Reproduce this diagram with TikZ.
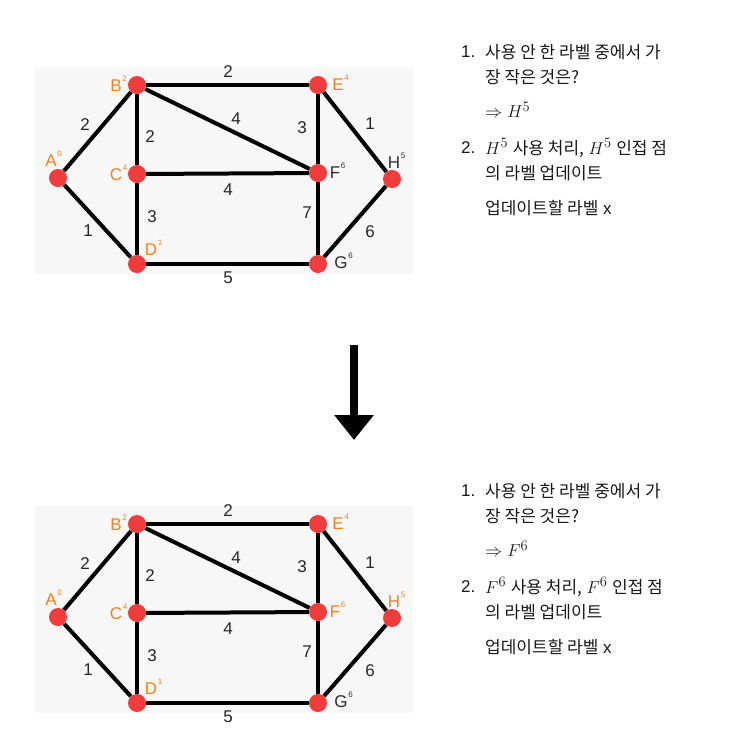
\documentclass[tikz,border=0pt]{standalone}
\usepackage[no-math]{fontspec}
\setmainfont{Liberation Sans}
\newfontfamily\krfont{Noto Sans CJK KR}
\usetikzlibrary{arrows.meta}
\pgfdeclarelayer{bg}
\pgfdeclarelayer{edges}
\pgfsetlayers{bg,edges,main}
\definecolor{nodered}{RGB}{240,60,60}
\definecolor{lblorange}{RGB}{240,130,30}
\definecolor{lblgrey}{RGB}{45,45,45}
\definecolor{panelgrey}{RGB}{247,247,247}
\newcommand\ko[1]{{\krfont\fontsize{17}{17}\selectfont #1}}
\newcommand\mth[1]{{\fontsize{19}{19}\selectfont$#1$}}
\tikzset{
  vtx/.style={circle,fill=nodered,minimum size=18pt,inner sep=0pt},
  edge/.style={line width=4pt,black},
  wlbl/.style={inner sep=0pt,text=black!85,font=\fontsize{17}{17}\selectfont},
  vlbl/.style={inner sep=0pt,font=\fontsize{17}{17}\selectfont},
  slbl/.style={inner sep=0pt,font=\fontsize{8}{8}\selectfont,anchor=north west,xshift=0.3pt,yshift=3pt},
  txt/.style={anchor=west,inner sep=0pt,font=\fontsize{17}{17}\selectfont,text=black!90},
}
\newcommand\drawgraph[4]{%
\begin{scope}[shift={(0,#1)},name prefix=#4-]
  \begin{pgfonlayer}{bg}
    \fill[panelgrey] (35,67) rectangle (413,274);
  \end{pgfonlayer}
  \node[vtx] (A) at (58,178) {};
  \node[vtx] (B) at (137,85) {};
  \node[vtx] (C) at (137,174) {};
  \node[vtx] (D) at (137,264) {};
  \node[vtx] (E) at (318,85) {};
  \node[vtx] (F) at (318,173) {};
  \node[vtx] (G) at (318,264) {};
  \node[vtx] (H) at (392,179) {};
  \begin{pgfonlayer}{edges}
    \draw[edge] (A) -- (B);
    \draw[edge] (A) -- (D);
    \draw[edge] (B) -- (C);
    \draw[edge] (C) -- (D);
    \draw[edge] (B) -- (E);
    \draw[edge] (B) -- (F);
    \draw[edge] (C) -- (F);
    \draw[edge] (D) -- (G);
    \draw[edge] (E) -- (F);
    \draw[edge] (F) -- (G);
    \draw[edge] (E) -- (H);
    \draw[edge] (G) -- (H);
  \end{pgfonlayer}
  % vertex labels
  \node[vlbl,text=lblorange,anchor=base] (la) at (51,166) {A};
  \node[slbl,text=lblorange] (lap) at (la.north east) {0};
  \node[vlbl,text=lblorange,anchor=base] (lb) at (116,91) {B};
  \node[slbl,text=lblorange] (lbp) at (lb.north east) {2};
  \node[vlbl,text=lblorange,anchor=base] (lc) at (116,180) {C};
  \node[slbl,text=lblorange] (lcp) at (lc.north east) {4};
  \node[vlbl,text=lblorange,anchor=base] (ld) at (151,255) {D};
  \node[slbl,text=lblorange] (ldp) at (ld.north east) {1};
  \node[vlbl,text=lblorange,anchor=base] (le) at (338,90) {E};
  \node[slbl,text=lblorange] (lep) at (le.north east) {4};
  \node[vlbl,text=#2,anchor=base] (lf) at (335,178) {F};
  \node[slbl,text=#2] (lfp) at (lf.north east) {6};
  \node[vlbl,text=lblgrey,anchor=base] (lg) at (341,268) {G};
  \node[slbl,text=lblgrey] (lgp) at (lg.north east) {6};
  \node[vlbl,text=#3,anchor=base] (lh) at (394,168) {H};
  \node[slbl,text=#3] (lhp) at (lh.north east) {5};
  % weights
  \node[wlbl] (wab) at (85,125) {2};
  \node[wlbl] (wad) at (88,231) {1};
  \node[wlbl] (wbc) at (150,137) {2};
  \node[wlbl] (wcd) at (152,217) {3};
  \node[wlbl] (wbe) at (228,72) {2};
  \node[wlbl] (wbf) at (236,119) {4};
  \node[wlbl] (wcf) at (228,190) {4};
  \node[wlbl] (wef) at (302,128) {3};
  \node[wlbl] (wfg) at (307,213) {7};
  \node[wlbl] (weh) at (370,124) {1};
  \node[wlbl] (wgh) at (370,232) {6};
  \node[wlbl] (wdg) at (228,278) {5};
\end{scope}}
\newcommand\drawtext[3]{%
\begin{scope}[shift={(0,#1)},name prefix=#3-]
  \node[txt] (n1) at (461,52) {1.};
  \node[txt] (l1) at (485,52) {\ko{사용 안 한 라벨 중에서 가}};
  \node[txt] (l2) at (485,77) {\ko{장 작은 것은?}};
  \node[txt] (l3) at (485,110) {\mth{\Rightarrow #2}};
  \node[txt] (n2) at (461,148) {2.};
  \node[txt] (l4) at (485,148) {\mth{#2} \ko{사용 처리,} \mth{#2} \ko{인접 점}};
  \node[txt] (l5) at (485,173) {\ko{의 라벨 업데이트}};
  \node[txt] (l6) at (485,208) {\ko{업데이트할 라벨} x};
\end{scope}}
\begin{document}
\begin{tikzpicture}[x=1pt,y=-1pt]
  \useasboundingbox (0,0) rectangle (752,748);
  \begin{pgfonlayer}{bg}
    \fill[white] (0,0) rectangle (752,748);
  \end{pgfonlayer}
  \drawgraph{0}{lblgrey}{lblgrey}{top}
  \drawgraph{439}{lblorange}{lblorange}{bot}
  \drawtext{0}{H^5}{ttop}
  \drawtext{439}{F^6}{tbot}
  \coordinate (arrS) at (354,345);
  \coordinate (arrT) at (354,440);
  \draw[line width=8pt,-{Triangle[width=38pt,length=25pt]}] (arrS) -- (arrT);
\end{tikzpicture}
\end{document}
